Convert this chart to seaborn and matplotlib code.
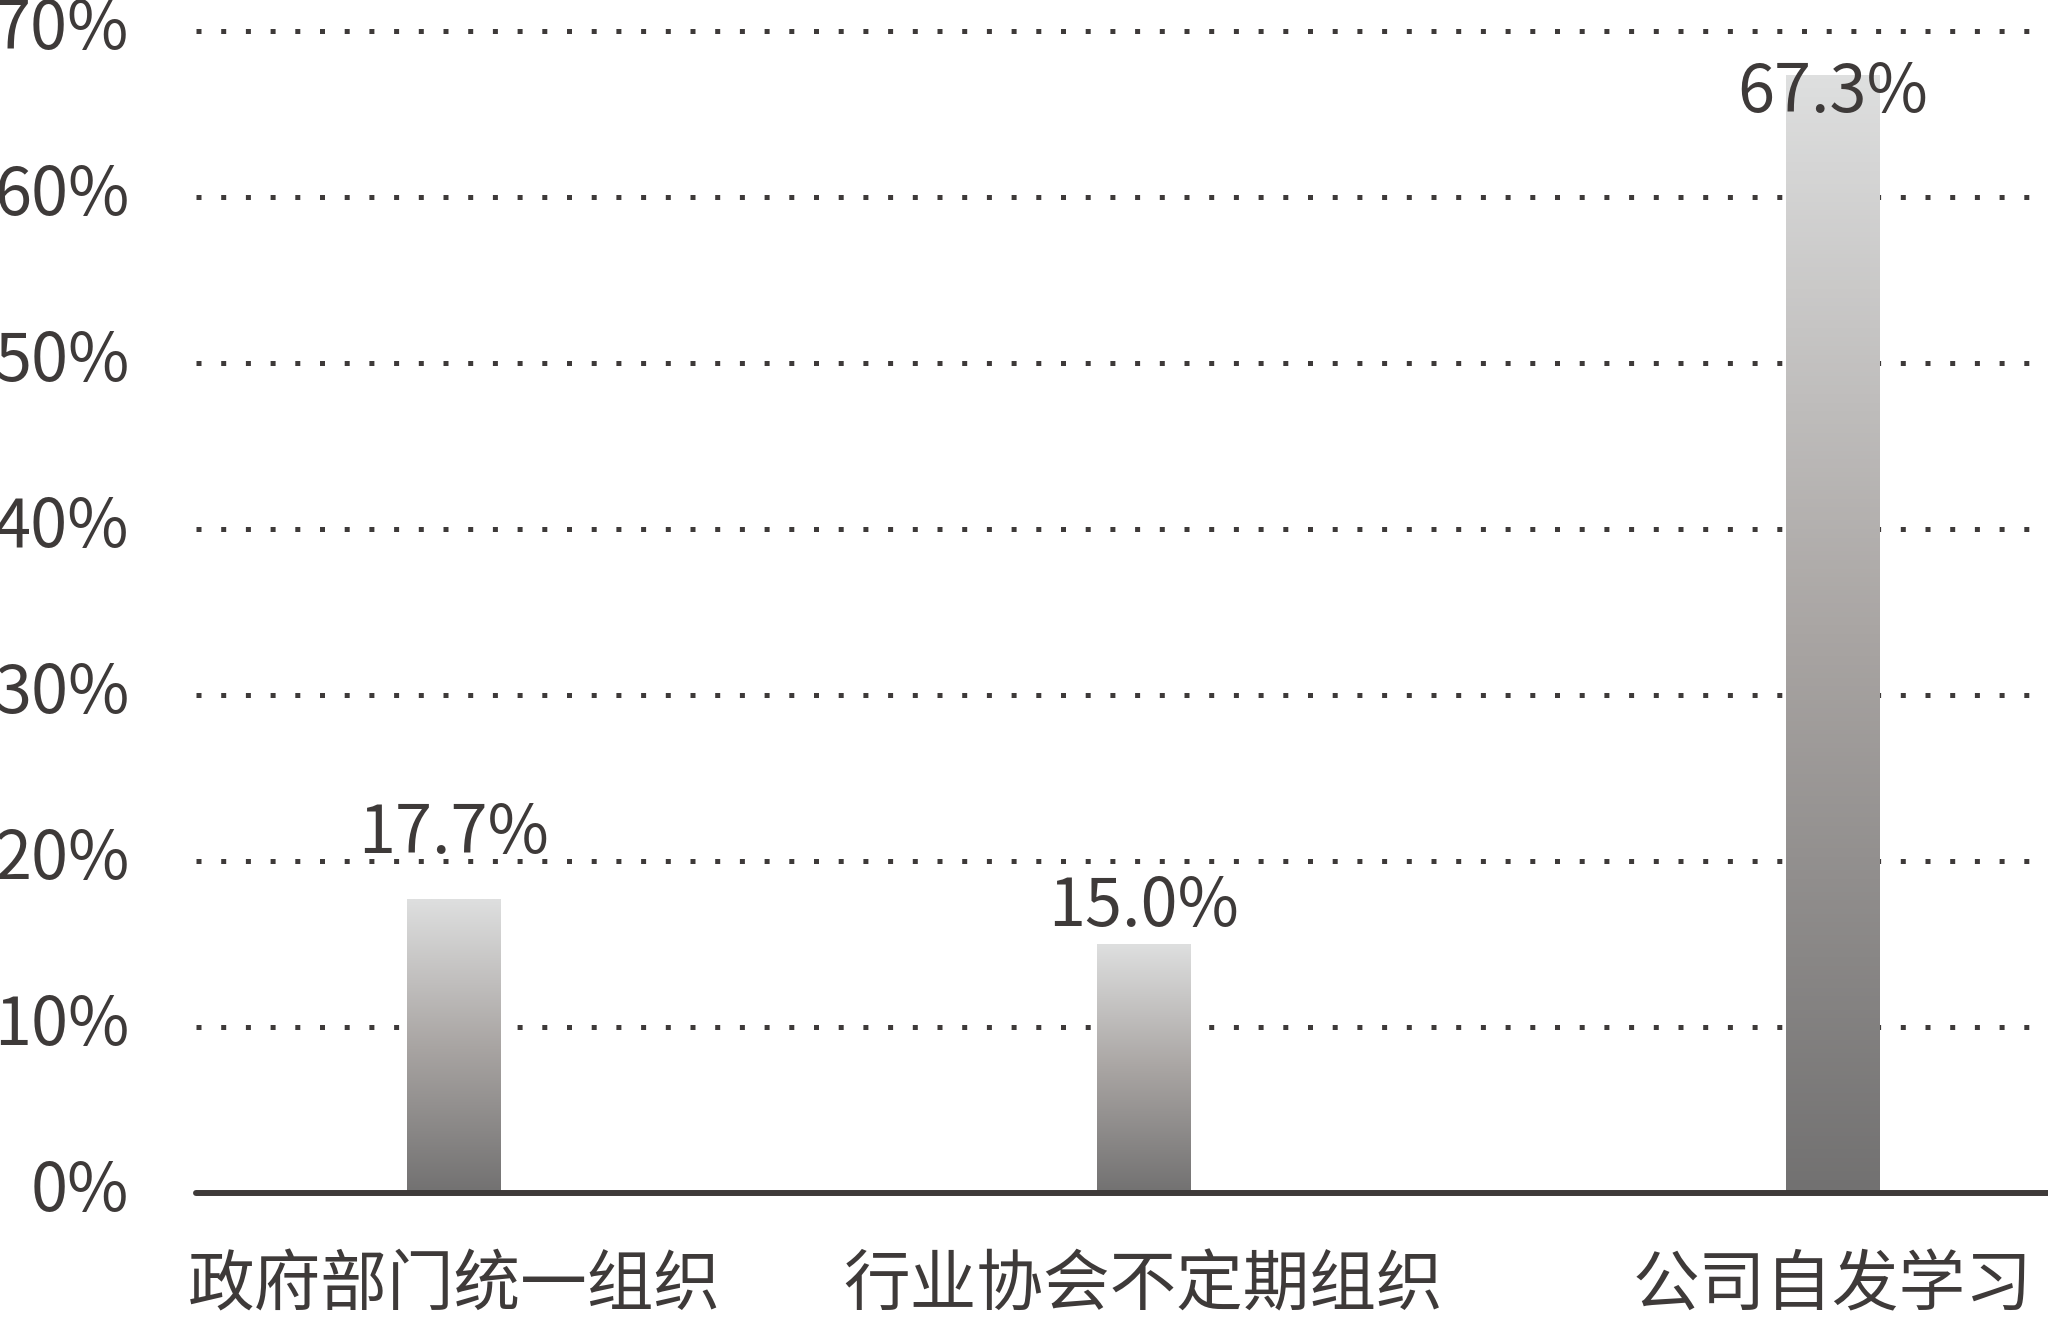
import numpy as np
import pandas as pd
import matplotlib
matplotlib.use("Agg")
import matplotlib.pyplot as plt
import matplotlib.transforms as mtransforms
from matplotlib.colors import LinearSegmentedColormap
import seaborn as sns

# 数据
categories = ["政府部门统一组织", "行业协会不定期组织", "公司自发学习"]
values = [17.7, 15.0, 67.3]
value_labels = ["17.7%", "15.0%", "67.3%"]
y_ticks = [0, 10, 20, 30, 40, 50, 60, 70]
y_tick_labels = ["0%", "10%", "20%", "30%", "40%", "50%", "60%", "70%"]

# 数值标签相对柱顶的偏移（版式）
label_offsets = [2.8, 1.1, -2.2]

df = pd.DataFrame({"类别": categories, "比例": values})

sns.set_theme(style="white")
plt.rcParams["font.family"] = ["Noto Sans CJK SC", "DejaVu Sans"]

TEXT = "#3e3a39"

fig = plt.figure(figsize=(20.48, 13.26), dpi=100)
ax = fig.add_axes([0.0957, 0.1003, 0.9043, 0.8997])

sns.barplot(data=df, x="类别", y="比例", color="#aaaaaa", width=0.135,
            ax=ax, zorder=3)

# 渐变柱
cmap = LinearSegmentedColormap.from_list("bar_grey", ["#727171", "#a9a5a3", "#dedfdf"])
grad = np.linspace(0, 1, 256).reshape(-1, 1)
for patch in ax.patches:
    x0, y0 = patch.get_x(), patch.get_y()
    w, h = patch.get_width(), patch.get_height()
    ax.imshow(grad, extent=[x0, x0 + w, y0, y0 + h], origin="lower",
              aspect="auto", cmap=cmap, zorder=3)
    patch.set_visible(False)

# 数值标签
for i, (v, lab, off) in enumerate(zip(values, value_labels, label_offsets)):
    ax.text(i, v + off, lab, ha="center", va="baseline", fontsize=48,
            color=TEXT, zorder=5)

ax.set_xlim(-0.374, 2.312)
ax.set_ylim(0, 71.87)
ax.set_yticks(y_ticks)
ax.set_yticklabels(y_tick_labels)
ax.set_xlabel("")
ax.set_ylabel("")

ax.set_axisbelow(True)
ax.grid(axis="y", color=TEXT, linewidth=3.6, linestyle=(0, (1, 3.94)))
ax.grid(axis="x", visible=False)
ax.axhline(0, color=TEXT, lw=4.3, zorder=4, clip_on=False)

for s in ax.spines.values():
    s.set_visible(False)

ax.tick_params(axis="y", length=0, pad=48, labelsize=48, labelcolor=TEXT)
ax.tick_params(axis="x", length=0, pad=43, labelsize=48, labelcolor=TEXT)

# y 轴标签稍微上移，和虚线对齐
shift = mtransforms.ScaledTranslation(0, 8 / 100, fig.dpi_scale_trans)
for lbl in ax.get_yticklabels():
    lbl.set_transform(lbl.get_transform() + shift)

fig.savefig("out.png", dpi=100)
